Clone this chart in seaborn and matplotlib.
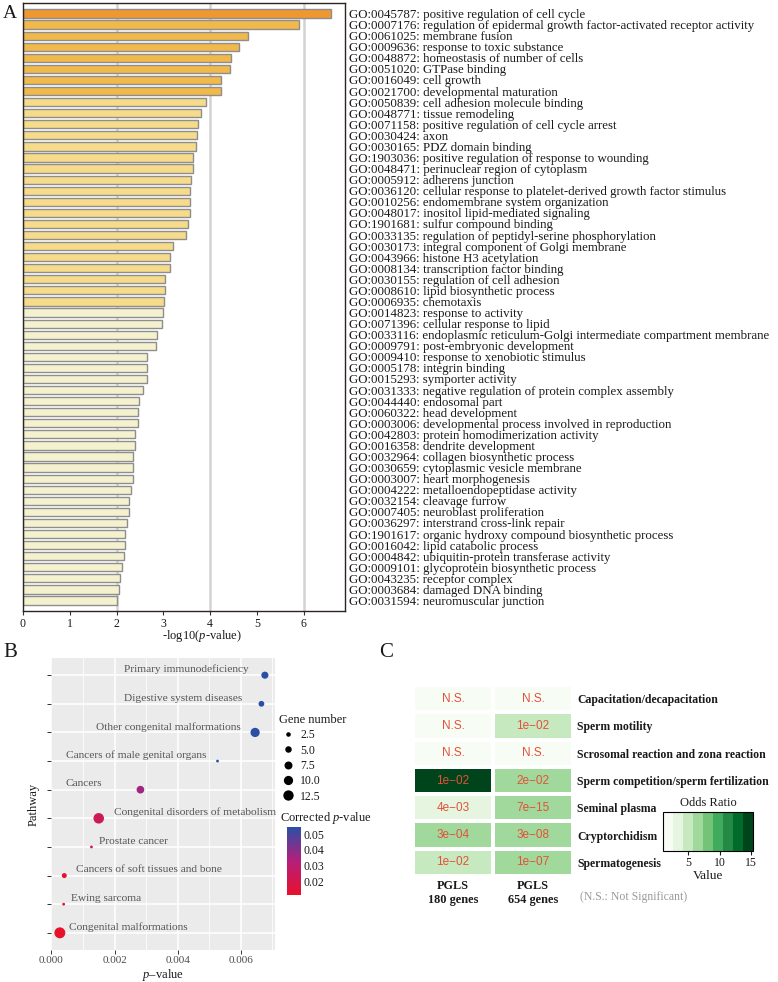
import numpy as np
import pandas as pd
import matplotlib
matplotlib.use("Agg")
import matplotlib.pyplot as plt
import seaborn as sns
from matplotlib.colors import ListedColormap, LinearSegmentedColormap, Normalize
from matplotlib.cm import ScalarMappable
from matplotlib.lines import Line2D

# ---- panel A: GO enrichment ----
go_terms = [
    "GO:0045787: positive regulation of cell cycle",
    "GO:0007176: regulation of epidermal growth factor-activated receptor activity",
    "GO:0061025: membrane fusion",
    "GO:0009636: response to toxic substance",
    "GO:0048872: homeostasis of number of cells",
    "GO:0051020: GTPase binding",
    "GO:0016049: cell growth",
    "GO:0021700: developmental maturation",
    "GO:0050839: cell adhesion molecule binding",
    "GO:0048771: tissue remodeling",
    "GO:0071158: positive regulation of cell cycle arrest",
    "GO:0030424: axon",
    "GO:0030165: PDZ domain binding",
    "GO:1903036: positive regulation of response to wounding",
    "GO:0048471: perinuclear region of cytoplasm",
    "GO:0005912: adherens junction",
    "GO:0036120: cellular response to platelet-derived growth factor stimulus",
    "GO:0010256: endomembrane system organization",
    "GO:0048017: inositol lipid-mediated signaling",
    "GO:1901681: sulfur compound binding",
    "GO:0033135: regulation of peptidyl-serine phosphorylation",
    "GO:0030173: integral component of Golgi membrane",
    "GO:0043966: histone H3 acetylation",
    "GO:0008134: transcription factor binding",
    "GO:0030155: regulation of cell adhesion",
    "GO:0008610: lipid biosynthetic process",
    "GO:0006935: chemotaxis",
    "GO:0014823: response to activity",
    "GO:0071396: cellular response to lipid",
    "GO:0033116: endoplasmic reticulum-Golgi intermediate compartment membrane",
    "GO:0009791: post-embryonic development",
    "GO:0009410: response to xenobiotic stimulus",
    "GO:0005178: integrin binding",
    "GO:0015293: symporter activity",
    "GO:0031333: negative regulation of protein complex assembly",
    "GO:0044440: endosomal part",
    "GO:0060322: head development",
    "GO:0003006: developmental process involved in reproduction",
    "GO:0042803: protein homodimerization activity",
    "GO:0016358: dendrite development",
    "GO:0032964: collagen biosynthetic process",
    "GO:0030659: cytoplasmic vesicle membrane",
    "GO:0003007: heart morphogenesis",
    "GO:0004222: metalloendopeptidase activity",
    "GO:0032154: cleavage furrow",
    "GO:0007405: neuroblast proliferation",
    "GO:0036297: interstrand cross-link repair",
    "GO:1901617: organic hydroxy compound biosynthetic process",
    "GO:0016042: lipid catabolic process",
    "GO:0004842: ubiquitin-protein transferase activity",
    "GO:0009101: glycoprotein biosynthetic process",
    "GO:0043235: receptor complex",
    "GO:0003684: damaged DNA binding",
    "GO:0031594: neuromuscular junction",
]
go_logp = [6.58, 5.90, 4.81, 4.61, 4.45, 4.42, 4.24, 4.22, 3.90, 3.80,
           3.74, 3.72, 3.69, 3.64, 3.63, 3.58, 3.57, 3.56, 3.56, 3.53,
           3.48, 3.20, 3.15, 3.14, 3.03, 3.03, 3.02, 2.99, 2.97, 2.86,
           2.84, 2.66, 2.65, 2.64, 2.57, 2.48, 2.46, 2.45, 2.40, 2.39,
           2.36, 2.35, 2.34, 2.30, 2.27, 2.27, 2.23, 2.18, 2.17, 2.16,
           2.12, 2.08, 2.05, 2.00]

# ---- panel B: pathway bubble plot (top to bottom) ----
kegg_pathways = [
    "Primary immunodeficiency",
    "Digestive system diseases",
    "Other congenital malformations",
    "Cancers of male genital organs",
    "Cancers",
    "Congenital disorders of metabolism",
    "Prostate cancer",
    "Cancers of soft tissues and bone",
    "Ewing sarcoma",
    "Congenital malformations",
]
kegg_pvalue = [0.00676, 0.00665, 0.00645, 0.00526, 0.00282,
               0.00150, 0.00127, 0.00041, 0.00039, 0.00027]
kegg_genes = [6, 4, 10, 1, 7, 13, 1, 3, 1, 14]
kegg_padj = [0.0545, 0.0545, 0.0545, 0.0545, 0.036,
             0.023, 0.019, 0.0112, 0.0112, 0.0112]
# left edge of each pathway label, in p-value units
label_x = [0.00231, 0.00231, 0.00142, 0.00048, 0.00045,
           0.00197, 0.00152, 0.00077, 0.00063, 0.00055]

# ---- panel C: odds ratio heatmap ----
traits = [
    "Capacitation/decapacitation",
    "Sperm motility",
    "Scrosomal reaction and zona reaction",
    "Sperm competition/sperm fertilization",
    "Seminal plasma",
    "Cryptorchidism",
    "Spermatogenesis",
]
gene_sets = ["PGLS\n180 genes", "PGLS\n654 genes"]
odds_180 = [1, 1, 1, 15, 3.5, 7.2, 5]
odds_654 = [1, 5, 1, 7.2, 7.2, 7.2, 7.2]
pval_180 = ["N.S.", "N.S.", "N.S.", "1e\u221202", "4e\u221203", "3e\u221204", "1e\u221202"]
pval_654 = ["N.S.", "1e\u221202", "N.S.", "2e\u221202", "7e\u221215", "3e\u221208", "1e\u221207"]

sns.set_theme(style="white")
plt.rcParams["font.family"] = ["Liberation Serif", "DejaVu Serif"]
plt.rcParams["mathtext.fontset"] = "custom"
plt.rcParams["mathtext.rm"] = "Liberation Serif"
plt.rcParams["mathtext.it"] = "Liberation Serif:italic"
for k in ["text.color", "axes.labelcolor", "xtick.color", "ytick.color"]:
    plt.rcParams[k] = "#1a1a1a"

W, H = 778, 982
fig = plt.figure(figsize=(W / 100, H / 100), dpi=100)


def box(x0, y0, x1, y1):
    return [x0 / W, 1 - y1 / H, (x1 - x0) / W, (y1 - y0) / H]


# ================= A =================
axA = fig.add_axes(box(23, 3, 345, 611))
dfA = pd.DataFrame({"term": go_terms, "logp": go_logp})
bar_cols = np.select([dfA.logp >= 6, dfA.logp >= 4, dfA.logp > 3],
                     ["#EE982F", "#F1B94C", "#F6DB8B"], "#F4F1CE")
sns.barplot(data=dfA, x="logp", y="term", hue="term", palette=list(bar_cols),
            legend=False, width=0.74, edgecolor="#8e8e8e", linewidth=1.0,
            saturation=1, ax=axA, zorder=2)
axA.set_xlim(0, 6.88)
axA.set_ylim(len(go_terms) - 0.05, -0.95)
for v in [2, 4, 6]:
    axA.axvline(v, color="#d2d2d2", lw=1.8, zorder=0)
axA.set_xticks(range(7))
axA.yaxis.tick_right()
axA.tick_params(axis="y", length=0, pad=3, labelsize=9.3, colors="#1a1a1a")
axA.tick_params(axis="x", bottom=True, length=3, width=0.8, direction="out",
                labelsize=8.5, pad=2, color="#333333")
axA.set_xlabel(r"-log10($\it{p}$-value)", fontsize=9, labelpad=1)
axA.xaxis.set_label_coords((202 - 23) / 322, -0.028)
axA.set_ylabel("")
for s in axA.spines.values():
    s.set_color("#2b2420")
    s.set_linewidth(1)

# ================= B =================
axB = fig.add_axes(box(50.7, 658, 275, 950))
axB.set_facecolor("#EBEBEB")
dfB = pd.DataFrame({"pathway": kegg_pathways, "p": kegg_pvalue,
                    "genes": kegg_genes, "padj": kegg_padj})
dfB["row"] = np.arange(len(dfB))
pcmap = LinearSegmentedColormap.from_list("rb", ["#E8112A", "#B51F7C", "#2A4FA6"])
sns.scatterplot(data=dfB, x="p", y="row", size="genes", sizes=(4, 62),
                size_norm=(1, 14), hue="padj", hue_norm=(0.0111, 0.0545),
                palette=pcmap, edgecolor="none", linewidth=0, legend=False,
                ax=axB, zorder=3)
axB.set_xlim(-0.00002, 0.00708)
axB.set_ylim(9.6, -0.6)
axB.set_xticks([0, 0.002, 0.004, 0.006])
axB.set_xticklabels(["0.000", "0.002", "0.004", "0.006"])
axB.set_xticks([0.001, 0.003, 0.005, 0.007], minor=True)
axB.set_yticks(range(len(kegg_pathways)))
axB.set_yticklabels([])
axB.grid(which="major", color="white", lw=1.1, zorder=0)
axB.grid(which="minor", axis="x", color="white", lw=0.55, zorder=0)
axB.set_axisbelow(True)
axB.tick_params(axis="both", which="major", bottom=True, left=True, length=3,
                width=0.7, color="#333333", labelsize=8, labelcolor="#4d4d4d", pad=1)
axB.tick_params(which="minor", length=0)
for s in axB.spines.values():
    s.set_visible(False)
for i, name in enumerate(kegg_pathways):
    axB.text(label_x[i], i - 0.2, name, ha="left", va="center",
             fontsize=8.2, color="#555555")
axB.set_xlabel(r"$\it{p}$–value", fontsize=9)
axB.xaxis.label.set_va("center")
axB.xaxis.set_label_coords(0.5, -25 / 292)
axB.set_ylabel("Pathway", fontsize=9, labelpad=4)

# size legend
size_breaks = [2.5, 5.0, 7.5, 10.0, 12.5]
handles = [Line2D([], [], marker="o", ls="", color="black", markeredgewidth=0,
                  markersize=np.sqrt(4 + 58 * (v - 1) / 13)) for v in size_breaks]
legB = fig.legend(handles, [f"{v:.1f}" for v in size_breaks], title="Gene number",
                  loc="upper left", bbox_to_anchor=(279 / W, 1 - 714 / H),
                  frameon=False, fontsize=8.5, title_fontsize=9, labelspacing=0.28,
                  handletextpad=0.2, borderaxespad=0, borderpad=0, handlelength=1.6,
                  alignment="left")

# corrected p colourbar
caxB = fig.add_axes(box(287, 827, 301, 895))
cbB = fig.colorbar(ScalarMappable(norm=Normalize(0.0111, 0.0545), cmap=pcmap), cax=caxB)
cbB.set_ticks([0.02, 0.03, 0.04, 0.05])
cbB.set_ticklabels(["0.02", "0.03", "0.04", "0.05"])
cbB.outline.set_visible(False)
caxB.tick_params(direction="in", length=3, width=0.8, color="white",
                 labelsize=8.5, labelcolor="#1a1a1a", pad=2)
fig.text(280 / W, 1 - 818 / H, r"Corrected $\it{p}$-value", fontsize=9, va="center")

# ================= C =================
axC = fig.add_axes(box(413, 685, 573, 876))
caxC = fig.add_axes(box(663, 812, 753, 851))
odds = pd.DataFrame({gene_sets[0]: odds_180, gene_sets[1]: odds_654}, index=traits)
annot = pd.DataFrame({gene_sets[0]: pval_180, gene_sets[1]: pval_654}, index=traits)
greens = ListedColormap(plt.get_cmap("Greens")(np.linspace(0, 1, 9)))
sns.heatmap(odds, cmap=greens, vmin=1, vmax=15.3, annot=annot, fmt="",
            annot_kws=dict(color="#E4503A", family="Liberation Sans", fontsize=8.5),
            linewidths=1.5, linecolor="white", cbar_ax=caxC,
            cbar_kws=dict(orientation="horizontal", ticks=[5, 10, 15]), ax=axC)
axC.yaxis.tick_right()
axC.set_yticklabels(traits, rotation=0, ha="left", fontweight="bold", fontsize=8.5)
axC.set_xticklabels(gene_sets, rotation=0, fontweight="bold", fontsize=8.8)
axC.tick_params(length=0, pad=3)
axC.tick_params(axis="x", pad=3)
axC.set_xlabel("")
axC.set_ylabel("")
caxC.tick_params(length=3, width=0.8, direction="out", labelsize=8.5, pad=1, color="#1a1a1a")
caxC.set_title("Odds Ratio", fontsize=9, pad=4)
caxC.set_xlabel("Value", fontsize=9.5, labelpad=1)
cbar = axC.collections[0].colorbar
cbar.outline.set_edgecolor("black")
cbar.outline.set_linewidth(0.8)
fig.text(580 / W, 1 - 897 / H, "(N.S.: Not Significant)", fontsize=8.5,
         color="#9a9a9a", va="center")

# panel letters
fig.text(3 / W, 1 - 18 / H, "A", fontsize=14, va="baseline")
fig.text(3 / W, 1 - 657 / H, "B", fontsize=15, va="baseline")
fig.text(379 / W, 1 - 657 / H, "C", fontsize=15, va="baseline")

fig.savefig("out.png", dpi=100)
